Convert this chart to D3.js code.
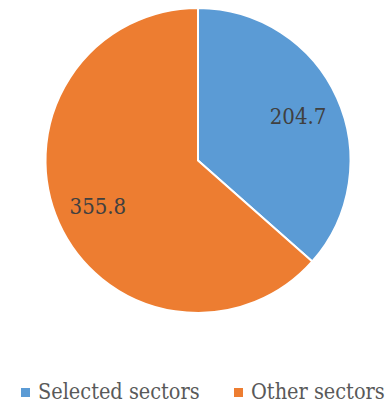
<!DOCTYPE html>
<html>
<head>
<meta charset="utf-8">
<script src="https://cdn.jsdelivr.net/npm/d3@7"></script>
<style>
  html, body { margin: 0; padding: 0; background: #ffffff; }
  svg { display: block; }
  text { font-family: 'DejaVu Serif Condensed', 'DejaVu Serif', serif; font-stretch: condensed; }
</style>
</head>
<body>
<svg id="chart" width="390" height="404"></svg>
<script>
// Sector totals
const categories = ["Selected sectors", "Other sectors"];
const values = [204.7, 355.8];
const colors = ["#5b9bd5", "#ed7d31"];

const width = 390, height = 404;
const cx = 198, cy = 160.5, radius = 152.5;

const svg = d3.select("#chart");

const pie = d3.pie().sort(null).value(d => d.value);
const arcs = pie(categories.map((c, i) => ({ name: c, value: values[i] })));

const arc = d3.arc().innerRadius(0).outerRadius(radius);
const labelArc = d3.arc().innerRadius(radius * 0.72).outerRadius(radius * 0.72);

const g = svg.append("g").attr("transform", `translate(${cx},${cy})`);

g.selectAll("path.slice")
  .data(arcs)
  .join("path")
  .attr("class", "slice")
  .attr("d", arc)
  .attr("fill", (d, i) => colors[i])
  .attr("stroke", "#ffffff")
  .attr("stroke-width", 2)
  .attr("stroke-linejoin", "round");

g.selectAll("text.value")
  .data(arcs)
  .join("text")
  .attr("class", "value")
  .attr("transform", d => `translate(${labelArc.centroid(d)})`)
  .attr("text-anchor", "middle")
  .attr("dy", "0.38em")
  .attr("font-size", 22)
  .attr("fill", "#404040")
  .text(d => d.data.value.toFixed(1));

// Legend
const legendX = [21, 234];
const legend = svg.append("g");
const items = legend.selectAll("g.item")
  .data(categories)
  .join("g")
  .attr("class", "item")
  .attr("transform", (d, i) => `translate(${legendX[i]},388)`);

items.append("rect")
  .attr("width", 9)
  .attr("height", 9)
  .attr("fill", (d, i) => colors[i]);

items.append("text")
  .attr("x", 17)
  .attr("y", 11)
  .attr("font-size", 21.5)
  .attr("fill", "#595959")
  .text(d => d);
</script>
</body>
</html>
